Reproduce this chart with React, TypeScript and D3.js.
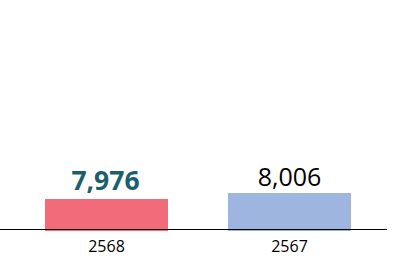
import React from "react";
import * as d3 from "d3";

const categories = ["2568", "2567"];
const values = [7976, 8006];
const colors = ["#f26b7a", "#9db5df"];
const labelColors = ["#1c5f6c", "#000000"];
const labelWeights = [700, 400];

const W = 394;
const H = 263;

export default function App() {
  const x = d3
    .scaleBand<string>()
    .domain(categories)
    .range([15, 381])
    .paddingInner(0.328)
    .paddingOuter(0.164);
  const y = d3.scaleLinear().domain([7816, 8006]).range([231, 193]);
  const fmt = d3.format(",");
  const font = "'Open Sans', 'Noto Sans', sans-serif";
  return (
    <svg
      width={W}
      height={H}
      style={{ position: "absolute", left: 0, top: 0, background: "#fff" }}
    >
      {categories.map((c, i) => (
        <rect
          key={c}
          x={x(c)}
          y={y(values[i])}
          width={x.bandwidth()}
          height={y(7816) - y(values[i])}
          fill={colors[i]}
        />
      ))}
      <line x1={0} x2={387} y1={229.5} y2={229.5} stroke="#000" strokeWidth={1} />
      {categories.map((c, i) => (
        <text
          key={"t" + c}
          x={(x(c) as number) + x.bandwidth() / 2}
          y={252}
          textAnchor="middle"
          fontFamily={font}
          fontSize={16}
          fill="#000"
        >
          {c}
        </text>
      ))}
      {categories.map((c, i) => (
        <text
          key={"v" + c}
          x={(x(c) as number) + x.bandwidth() / 2 - (labelWeights[i] === 700 ? 1 : 0)}
          y={y(values[i]) - (labelWeights[i] === 700 ? 9.5 : 7)}
          textAnchor="middle"
          fontFamily={font}
          fontSize={labelWeights[i] === 700 ? 26.5 : 25}
          fontWeight={labelWeights[i]}
          fill={labelColors[i]}
        >
          {fmt(values[i])}
        </text>
      ))}
    </svg>
  );
}
